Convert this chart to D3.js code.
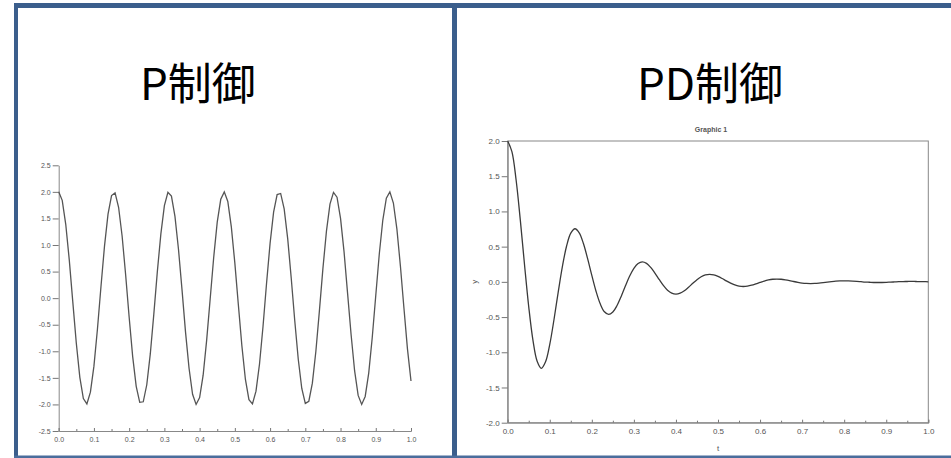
<!DOCTYPE html>
<html>
<head>
<meta charset="utf-8">
<script src="https://cdnjs.cloudflare.com/ajax/libs/d3/7.8.5/d3.min.js"></script>
<style>
body{margin:0;background:#fff;}
svg{display:block;}
</style>
</head>
<body>
<div class="chart"></div>
<script>
// panel titles
var panelTitles = ["P制御", "PD制御"];

// sample times (step 0.01 s)
var timeSteps = d3.range(101).map(function(i){ return i / 100; });

// P control response
var pValues = [
  2.00, 1.84, 1.39, 0.72, -0.07, -0.85, -1.49, -1.89, -1.99, -1.77,
  -1.28, -0.58, 0.22, 0.98, 1.58, 1.93, 1.98, 1.71, 1.17, 0.44,
  -0.36, -1.10, -1.66, -1.96, -1.95, -1.63, -1.05, -0.30, 0.50, 1.21,
  1.74, 1.99, 1.92, 1.54, 0.92, 0.16, -0.64, -1.32, -1.81, -2.00,
  -1.87, -1.45, -0.79, -0.01, 0.77, 1.43, 1.86, 2.00, 1.82, 1.34,
  0.66, -0.13, -0.90, -1.53, -1.91, -1.99, -1.75, -1.24, -0.53, 0.28,
  1.03, 1.62, 1.95, 1.97, 1.68, 1.12, 0.38, -0.42, -1.15, -1.70,
  -1.98, -1.94, -1.60, -1.00, -0.24, 0.56, 1.26, 1.77, 1.99, 1.90,
  1.50, 0.87, 0.09, -0.69, -1.37, -1.83, -2.00, -1.85, -1.41, -0.74,
  0.05, 0.83, 1.47, 1.88, 2.00, 1.79, 1.30, 0.60, -0.19, -0.96,
  -1.56
];

// PD control response
var pdValues = [
  2.000, 1.850, 1.446, 0.876, 0.243, -0.353, -0.828, -1.128, -1.228, -1.136,
  -0.888, -0.538, -0.149, 0.216, 0.509, 0.692, 0.754, 0.697, 0.545, 0.330,
  0.092, -0.133, -0.312, -0.425, -0.463, -0.428, -0.335, -0.203, -0.056, 0.082,
  0.192, 0.261, 0.284, 0.263, 0.205, 0.124, 0.035, -0.050, -0.118, -0.160,
  -0.174, -0.161, -0.126, -0.076, -0.021, 0.031, 0.072, 0.098, 0.107, 0.099,
  0.077, 0.047, 0.013, -0.019, -0.044, -0.060, -0.066, -0.061, -0.048, -0.029,
  -0.008, 0.012, 0.027, 0.037, 0.040, 0.037, 0.029, 0.018, 0.005, -0.007,
  -0.017, -0.023, -0.025, -0.023, -0.018, -0.011, -0.003, 0.004, 0.010, 0.014,
  0.015, 0.014, 0.011, 0.007, 0.002, -0.003, -0.006, -0.009, -0.009, -0.009,
  -0.007, -0.004, -0.001, 0.002, 0.004, 0.005, 0.006, 0.005, 0.004, 0.003,
  0.001
];

// tick values
var xTicks = [0, 0.1, 0.2, 0.3, 0.4, 0.5, 0.6, 0.7, 0.8, 0.9, 1.0];
var xMinorTicks = [0.05, 0.15, 0.25, 0.35, 0.45, 0.55, 0.65, 0.75, 0.85, 0.95];
var pYTicks = [-2.5, -2.0, -1.5, -1.0, -0.5, 0.0, 0.5, 1.0, 1.5, 2.0, 2.5];
var pdYTicks = [-2.0, -1.5, -1.0, -0.5, 0.0, 0.5, 1.0, 1.5, 2.0];

var w = 951, h = 458;
var fmt = function(d){ return d.toFixed(1); };

var svg = d3.select("div.chart")
            .append("svg")
            .attr("width", w)
            .attr("height", h);

svg.append("rect").attr("width", w).attr("height", h).attr("fill", "#fff");

//slide frame
var frameColor = "#3b5e8c";
svg.append("rect").attr("x", 14).attr("y", 3).attr("width", w - 14).attr("height", 5).attr("fill", frameColor);
svg.append("rect").attr("x", 14).attr("y", 3).attr("width", 4).attr("height", h - 3).attr("fill", frameColor);
svg.append("rect").attr("x", 452).attr("y", 3).attr("width", 5).attr("height", h - 3).attr("fill", frameColor);
svg.append("rect").attr("x", 14).attr("y", 455.5).attr("width", w - 14).attr("height", 2.5).attr("fill", "#4a6d9c");

//panel titles
svg.selectAll(".ptitle")
   .data(panelTitles)
   .enter()
   .append("text")
      .attr("class", "ptitle")
      .attr("x", function(d, i){ return i === 0 ? 140 : 637; })
      .attr("y", 100)
      .attr("font-family", "'Noto Sans CJK JP', 'Noto Sans', sans-serif")
      .attr("font-size", 44)
      .attr("fill", "#000")
      .text(function(d){ return d; });

function styleAxis(g, fontSize){
  g.attr("color", "#777")
   .attr("font-family", "'Liberation Sans', Arial, sans-serif")
   .attr("font-size", fontSize);
  g.selectAll(".domain").attr("stroke", "#888");
  g.selectAll(".tick text").attr("fill", "#555");
}

// ---- left plot (P) ----
var x1 = d3.scaleLinear().domain([0, 1]).range([58.7, 411]);
var y1 = d3.scaleLinear().domain([-2.5, 2.5]).range([431, 165.3]);

var gx1 = svg.append("g").attr("transform", "translate(0," + y1(-2.5) + ")");
gx1.call(d3.axisBottom(x1).tickValues(xTicks).tickSize(-3).tickPadding(6).tickFormat(fmt));
styleAxis(gx1, 7);
var gx1m = svg.append("g").attr("transform", "translate(0," + y1(-2.5) + ")").attr("color", "#777");
gx1m.call(d3.axisBottom(x1).tickValues(xMinorTicks).tickSize(-2).tickFormat(""));
gx1m.select(".domain").remove();

var gy1 = svg.append("g").attr("transform", "translate(" + x1(0) + ",0)");
gy1.call(d3.axisLeft(y1).tickValues(pYTicks).tickSize(6).tickSizeOuter(0).tickPadding(2).tickFormat(fmt));
styleAxis(gy1, 7);

var line1 = d3.line()
              .x(function(d, i){ return x1(timeSteps[i]); })
              .y(function(d){ return y1(d); });

svg.append("path")
   .datum(pValues)
   .attr("d", line1)
   .attr("fill", "none")
   .attr("stroke", "#555")
   .attr("stroke-width", 1.3);

// ---- right plot (PD) ----
var x2 = d3.scaleLinear().domain([0, 1]).range([507.7, 928.3]);
var y2 = d3.scaleLinear().domain([-2, 2]).range([422.7, 141]);

svg.append("rect")
   .attr("x", x2(0)).attr("y", y2(2))
   .attr("width", x2(1) - x2(0)).attr("height", y2(-2) - y2(2))
   .attr("fill", "none").attr("stroke", "#888");

var gx2 = svg.append("g").attr("transform", "translate(0," + y2(-2) + ")");
gx2.call(d3.axisBottom(x2).tickValues(xTicks).tickSize(-3).tickPadding(6).tickFormat(fmt));
styleAxis(gx2, 8);
var gx2m = svg.append("g").attr("transform", "translate(0," + y2(-2) + ")").attr("color", "#777");
gx2m.call(d3.axisBottom(x2).tickValues(xMinorTicks).tickSize(-2).tickFormat(""));
gx2m.select(".domain").remove();

var gy2 = svg.append("g").attr("transform", "translate(" + x2(0) + ",0)");
gy2.call(d3.axisLeft(y2).tickValues(pdYTicks).tickSize(6).tickSizeOuter(0).tickPadding(2).tickFormat(fmt));
styleAxis(gy2, 8);

var line2 = d3.line()
              .curve(d3.curveCatmullRom)
              .x(function(d, i){ return x2(timeSteps[i]); })
              .y(function(d){ return y2(d); });

svg.append("path")
   .datum(pdValues)
   .attr("d", line2)
   .attr("fill", "none")
   .attr("stroke", "#3a3a3a")
   .attr("stroke-width", 1.3);

svg.append("text")
   .attr("x", 711).attr("y", 132)
   .attr("text-anchor", "middle")
   .attr("font-family", "'Liberation Sans', Arial, sans-serif")
   .attr("font-size", 7)
   .attr("font-weight", "bold")
   .attr("fill", "#555")
   .text("Graphic 1");

svg.append("text")
   .attr("x", 718).attr("y", 451)
   .attr("text-anchor", "middle")
   .attr("font-family", "'Liberation Sans', Arial, sans-serif")
   .attr("font-size", 8)
   .attr("fill", "#555")
   .text("t");

svg.append("text")
   .attr("transform", "translate(477," + y2(0) + ") rotate(-90)")
   .attr("text-anchor", "middle")
   .attr("font-family", "'Liberation Sans', Arial, sans-serif")
   .attr("font-size", 8)
   .attr("fill", "#555")
   .text("y");
</script>
</body>
</html>
